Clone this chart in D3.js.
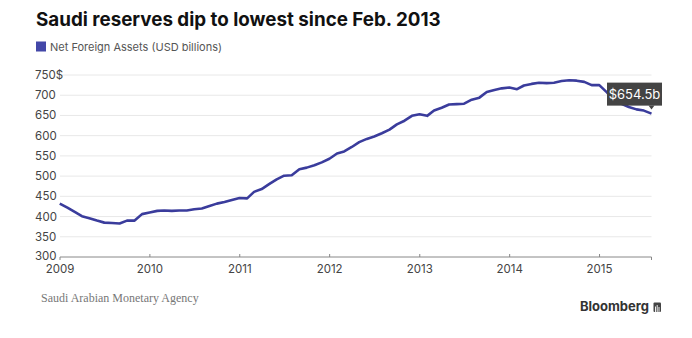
<!DOCTYPE html>
<html>
<head>
<meta charset="utf-8">
<script src="https://cdn.jsdelivr.net/npm/d3@7"></script>
<style>
  body { margin: 0; background: #fff; }
  svg { display: block; font-family: Inter, "Open Sans", sans-serif; }
</style>
</head>
<body>
<svg id="chart" width="692" height="338"></svg>
<script>
// Net foreign assets, USD billions, month-end values Dec 2008 - Jul 2015
const assets = [
    432, 422, 412, 401, 396, 390, 385, 384, 383, 390, 390, 406,
    410, 414, 415, 414, 415, 415, 418, 420, 426, 432, 436, 441,
    446, 445, 461, 468, 480, 492, 501, 502, 517, 521, 527, 534,
    543, 556, 561, 572, 584, 592, 598, 606, 615, 628, 637, 649,
    653, 649, 662, 669, 677, 678, 679, 689, 694, 708, 713, 717,
    719, 715, 724, 728, 731, 730, 731, 735, 737, 736, 733, 725,
    725, 707, 688, 679, 671, 665, 662, 654.5
];
const firstMonth = new Date(2008, 11, 1);
const yTicks = [300, 350, 400, 450, 500, 550, 600, 650, 700, 750];
const yearTicks = [2009, 2010, 2011, 2012, 2013, 2014, 2015];

const title = "Saudi reserves dip to lowest since Feb. 2013";
const seriesName = "Net Foreign Assets (USD billions)";
const source = "Saudi Arabian Monetary Agency";

const lineColor = "#3a3c9c";

var svg = d3.select("#chart");

// month-end dates for each value
var data = assets.map(function(v, i) {
    var m = d3.timeMonth.offset(firstMonth, i + 1);
    return { date: d3.timeDay.offset(m, -1), value: v };
});

var x = d3.scaleTime()
    .domain([new Date(2009, 0, 1), new Date(2015, 6, 31)])
    .range([60, 651.5]);

var y = d3.scaleLinear()
    .domain([300, 750])
    .range([257, 75]);

// title + legend
svg.append("text")
    .attr("x", 36).attr("y", 26)
    .style("font-size", "18.8px")
    .style("font-weight", 700)
    .style("fill", "#111")
    .text(title);

svg.append("rect")
    .attr("x", 36).attr("y", 41.5)
    .attr("width", 10).attr("height", 10)
    .style("fill", "#4347a8");

svg.append("text")
    .attr("x", 50).attr("y", 50.5)
    .style("font-size", "11px")
    .style("fill", "#555")
    .text(seriesName);

// gridlines
svg.append("g").selectAll("line")
    .data(yTicks.slice(1))
    .join("line")
    .attr("x1", x.range()[0]).attr("x2", x.range()[1])
    .attr("y1", d => y(d)).attr("y2", d => y(d))
    .style("stroke", "#e8e8e8")
    .style("stroke-width", 1);

// the bottom label sits a touch higher so it clears the year below
svg.append("g").selectAll("text")
    .data(yTicks)
    .join("text")
    .attr("x", 35)
    .attr("y", d => d === 300 ? y(d) - 1.5 : y(d))
    .attr("dy", "0.35em")
    .style("font-size", "11.5px")
    .style("fill", "#444")
    .text(d => d === 750 ? d + "$" : d);

// x axis: baseline, year ticks, labels
var axisY = y(300);
svg.append("line")
    .attr("x1", x.range()[0]).attr("x2", x.range()[1])
    .attr("y1", axisY).attr("y2", axisY)
    .style("stroke", "#888")
    .style("stroke-width", 1);

svg.append("g").selectAll("line")
    .data(yearTicks)
    .join("line")
    .attr("x1", d => x(new Date(d, 0, 1))).attr("x2", d => x(new Date(d, 0, 1)))
    .attr("y1", d => d === 2009 ? axisY : axisY - 3)
    .attr("y2", d => d === 2009 ? axisY + 3 : axisY)
    .style("stroke", "#888");

svg.append("line")
    .attr("x1", x.range()[1]).attr("x2", x.range()[1])
    .attr("y1", axisY).attr("y2", axisY + 3)
    .style("stroke", "#888");

svg.append("g").selectAll("text")
    .data(yearTicks)
    .join("text")
    .attr("x", d => x(new Date(d, 0, 1)))
    .attr("y", 273)
    .attr("text-anchor", "middle")
    .style("font-size", "11.5px")
    .style("fill", "#444")
    .text(d => d);

// the series
var line = d3.line()
    .x(d => x(d.date))
    .y(d => y(d.value));

svg.append("path")
    .datum(data)
    .attr("d", line)
    .style("fill", "none")
    .style("stroke", lineColor)
    .style("stroke-width", 2.6)
    .style("stroke-linejoin", "round");

// callout on the latest value
var last = data[data.length - 1];
var px = x(last.date), py = y(last.value);
var boxW = 55, boxH = 23, boxX = px + 10.5 - boxW, boxY = py - 31;
var tip = svg.append("g");
tip.append("rect")
    .attr("x", boxX).attr("y", boxY)
    .attr("width", boxW).attr("height", boxH)
    .style("fill", "#444");
tip.append("path")
    .attr("d", "M" + (px - 3) + "," + (boxY + boxH) + "L" + px + "," + (boxY + boxH + 4) + "L" + (px + 3) + "," + (boxY + boxH) + "Z")
    .style("fill", "#444");
tip.append("text")
    .attr("x", boxX + boxW / 2).attr("y", boxY + 16.5)
    .attr("text-anchor", "middle")
    .style("font-size", "13px")
    .style("fill", "#fff")
    .text("$" + last.value + "b");

// footer
svg.append("text")
    .attr("x", 41).attr("y", 301.5)
    .style("font-family", "'Liberation Serif', 'DejaVu Serif', serif")
    .style("font-size", "12px")
    .style("fill", "#777")
    .text(source);

var logo = svg.append("g");
logo.append("text")
    .attr("x", 649).attr("y", 311)
    .attr("text-anchor", "end")
    .style("font-size", "13px")
    .style("font-weight", 700)
    .style("fill", "#333")
    .text("Bloomberg");
logo.append("rect")
    .attr("x", 653.5).attr("y", 302.5)
    .attr("width", 7.5).attr("height", 9.5)
    .attr("rx", 1)
    .style("fill", "#444");
logo.selectAll("line.bar")
    .data([[655.5, 306.5], [657.2, 305], [659, 307]])
    .join("line")
    .attr("x1", d => d[0]).attr("x2", d => d[0])
    .attr("y1", d => d[1]).attr("y2", 313.5)
    .style("stroke", "#fff")
    .style("stroke-width", 0.9);
</script>
</body>
</html>
